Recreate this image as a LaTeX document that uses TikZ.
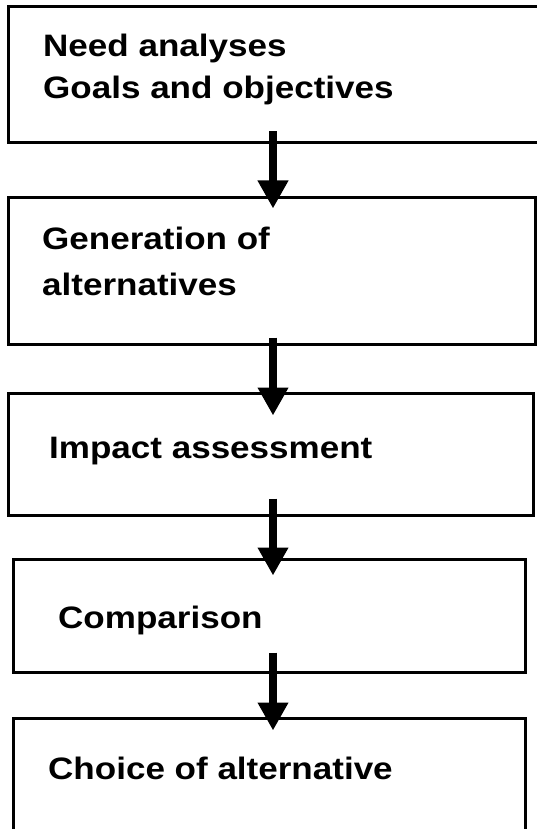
\documentclass[tikz,border=0pt]{standalone}
\usepackage{fontspec}
\setmainfont{Liberation Sans}
\newfontfamily\stagefont{Liberation Sans}[FakeStretch=1.13]
\usetikzlibrary{arrows.meta,fit}

\begin{document}
\begin{tikzpicture}[x=1pt,y=-1pt,>=Latex,
    stagebox/.style={draw,line width=3pt,inner sep=0pt},
    stagetext/.style={anchor=base west,inner sep=0pt,align=left,
      font=\stagefont\bfseries\fontsize{31}{36}\selectfont},
    flow/.style={line width=8pt,-{Triangle[width=29pt,length=28pt]}}]
  \useasboundingbox (0,0) rectangle (537,829);
  \coordinate (spine) at (273,0);
  % frames
  \node[stagebox,fit={(8,7)(542,143)}] (need) {};
  \node[stagebox,fit={(8,197)(535,344)}] (gen) {};
  \node[stagebox,fit={(8,393)(533,515)}] (impact) {};
  \node[stagebox,fit={(13,559)(525,672)}] (comp) {};
  \node[stagebox,fit={(13,718)(525,870)}] (choice) {};
  % texts (base = last line)
  \node[stagetext] (needtext) at (43,99) {Need analyses\\[6pt]Goals and objectives};
  \node[stagetext] (gentext) at (42,295) {Generation of\\[10pt]alternatives};
  \node[stagetext] (impacttext) at (49,458) {Impact assessment};
  \node[stagetext] (comptext) at (58,628) {Comparison};
  \node[stagetext] (choicetext) at (48,779) {Choice of alternative};
  % arrows
  \draw[flow,shorten <=-13pt,shorten >=-13pt] (need.south -| spine) -- (gen.north -| spine);
  \draw[flow,shorten <=-8pt,shorten >=-24pt] (gen.south -| spine) -- (impact.north -| spine);
  \draw[flow,shorten <=-18pt,shorten >=-18pt] (impact.south -| spine) -- (comp.north -| spine);
  \draw[flow,shorten <=-21pt,shorten >=-14pt] (comp.south -| spine) -- (choice.north -| spine);
\end{tikzpicture}
\end{document}
